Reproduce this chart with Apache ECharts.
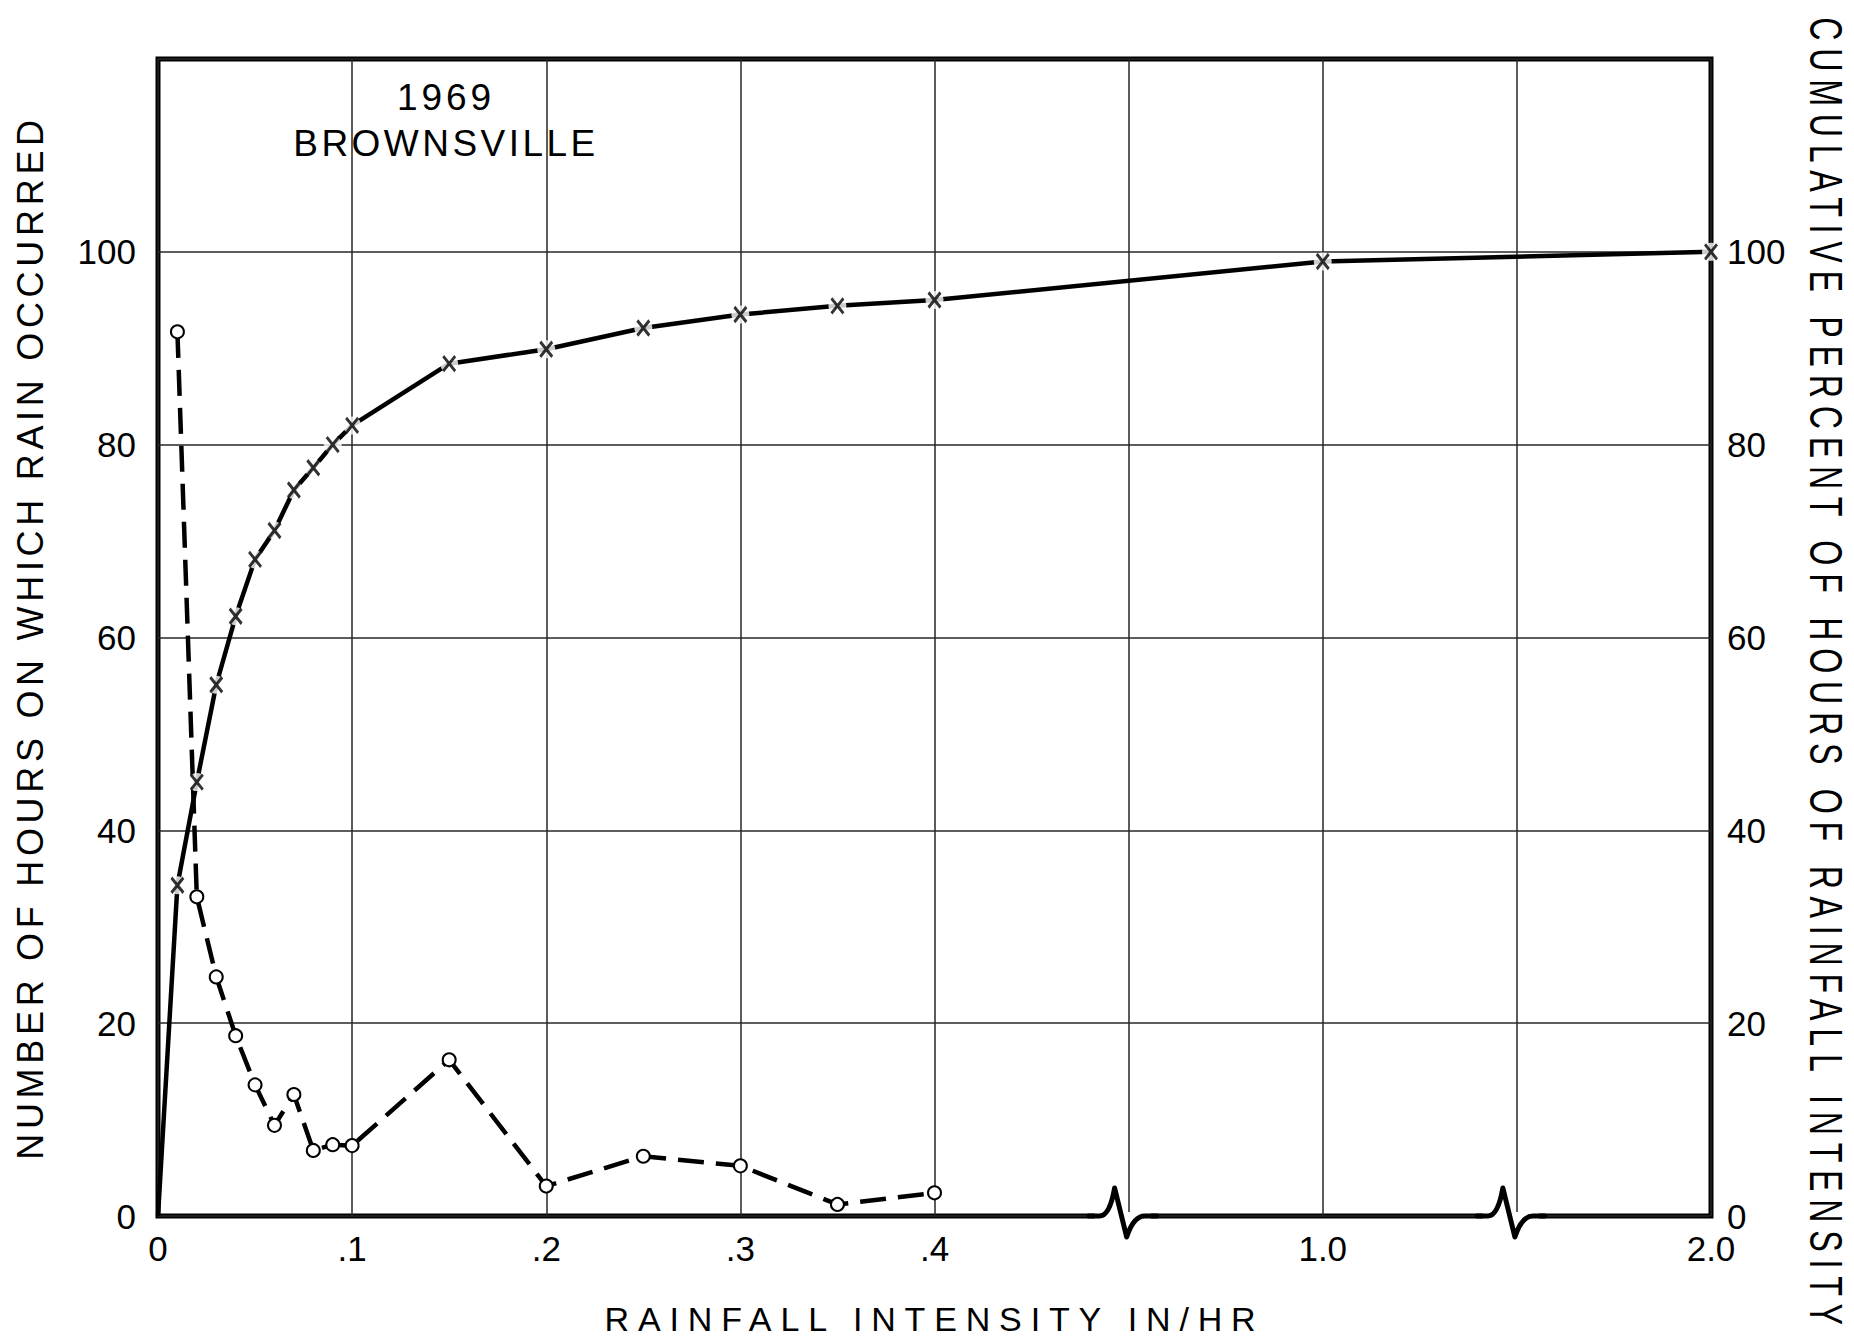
<!DOCTYPE html>
<html>
<head>
<meta charset="utf-8">
<script src="https://cdn.jsdelivr.net/npm/echarts@6/dist/echarts.min.js"></script>
<style>
  html, body { margin: 0; padding: 0; background: #fff; }
  #chart { width: 1854px; height: 1343px; }
</style>
</head>
<body>
<div id="chart"></div>
<script>
// Hourly rainfall intensity distribution, Brownsville 1969.

// Broken intensity axis: evenly spaced ticks, unlabeled ticks mark the breaks.
const intensityTicks = [0, 0.1, 0.2, 0.3, 0.4, null, 1.0, null, 2.0];
const tickLabels = ['0', '.1', '.2', '.3', '.4', '', '1.0', '', '2.0'];
const yTickLabels = [0, 20, 40, 60, 80, 100];

// Number of hours on which rain of each intensity occurred (open circles)
const hourIntensity = [0.01, 0.02, 0.03, 0.04, 0.05, 0.06, 0.07, 0.08, 0.09, 0.10,
                       0.15, 0.20, 0.25, 0.30, 0.35, 0.40];
const hoursCount = [91.7, 33.1, 24.8, 18.7, 13.6, 9.4, 12.6, 6.8, 7.4, 7.3,
                    16.2, 3.1, 6.2, 5.2, 1.2, 2.4];

// Cumulative percent of hours of rainfall intensity (crosses)
const cumIntensity = [0, 0.01, 0.02, 0.03, 0.04, 0.05, 0.06, 0.07, 0.08, 0.09, 0.10,
                      0.15, 0.20, 0.25, 0.30, 0.35, 0.40, 1.0, 2.0];
const cumPercent = [0, 34.3, 45.0, 55.1, 62.2, 68.1, 71.1, 75.3, 77.6, 80.0, 82.0,
                    88.4, 89.9, 92.1, 93.5, 94.4, 95.0, 99.0, 100.0];

const TITLE_YEAR = '1969';
const TITLE_PLACE = 'BROWNSVILLE';
const X_NAME = 'RAINFALL INTENSITY IN/HR';
const Y_LEFT_NAME = 'NUMBER OF HOURS ON WHICH RAIN OCCURRED';
const Y_RIGHT_NAME = 'CUMULATIVE PERCENT OF HOURS OF RAINFALL INTENSITY';

const FONT = 'Liberation Sans';
const INK = '#000';
const GRID_INK = '#262626';

// Piecewise-linear map from intensity (in/hr) to position on the broken axis.
const anchors = intensityTicks
  .map((v, i) => (v == null ? null : [v, i]))
  .filter(Boolean);
function axisPos(x) {
  for (let k = 0; k < anchors.length - 1; k++) {
    const [a0, i0] = anchors[k];
    const [a1, i1] = anchors[k + 1];
    if (x <= a1 + 1e-9) return i0 + (x - a0) / (a1 - a0) * (i1 - i0);
  }
  return anchors[anchors.length - 1][1];
}

const hoursData = hourIntensity.map((x, i) => [axisPos(x), hoursCount[i]]);
const cumData = cumIntensity.map((x, i) => [axisPos(x), cumPercent[i]]);
const cumMarks = cumData.filter((d, i) => cumIntensity[i] > 0);
const breakData = tickLabels.map((l, i) => (l === '' ? [i] : null)).filter(Boolean);

const chart = echarts.init(document.getElementById('chart'), null, { renderer: 'svg' });

const yLabel = v => (yTickLabels.includes(v) ? String(v) : '');

chart.setOption({
  animation: false,
  backgroundColor: '#fff',
  grid: {
    left: 158, right: 143, top: 59, bottom: 127,
    show: true, borderColor: INK, borderWidth: 5, backgroundColor: 'transparent'
  },
  xAxis: {
    type: 'value', min: 0, max: tickLabels.length - 1, interval: 1,
    axisLine: { show: false }, axisTick: { show: false },
    axisLabel: {
      margin: 15, fontSize: 35, fontFamily: FONT, color: INK,
      formatter: v => tickLabels[Math.round(v)] || ''
    },
    splitLine: { show: true, lineStyle: { color: GRID_INK, width: 1.5 } },
    name: X_NAME, nameLocation: 'middle', nameGap: 86,
    nameTextStyle: { fontSize: 34, fontFamily: FONT, color: INK }
  },
  yAxis: [
    {
      type: 'value', min: 0, max: 120, interval: 20, position: 'left',
      axisLine: { show: false }, axisTick: { show: false },
      axisLabel: { margin: 22, fontSize: 35, fontFamily: FONT, color: INK, formatter: yLabel },
      splitLine: { show: true, lineStyle: { color: GRID_INK, width: 1.5 } },
      name: Y_LEFT_NAME, nameLocation: 'middle', nameRotate: 90, nameGap: 110,
      nameTextStyle: { fontSize: 36, fontFamily: FONT, color: INK }
    },
    {
      type: 'value', min: 0, max: 120, interval: 20, position: 'right',
      axisLine: { show: false }, axisTick: { show: false },
      axisLabel: { margin: 16, fontSize: 35, fontFamily: FONT, color: INK, formatter: yLabel },
      splitLine: { show: false }
    }
  ],
  graphic: [
    { type: 'text', x: 446, y: 97,
      style: { text: TITLE_YEAR, fontSize: 37, fontFamily: FONT, fill: INK, align: 'center', verticalAlign: 'middle' } },
    { type: 'text', x: 446, y: 143,
      style: { text: TITLE_PLACE, fontSize: 37, fontFamily: FONT, fill: INK, align: 'center', verticalAlign: 'middle' } },
    { type: 'text', x: 1826, y: 675, rotation: -Math.PI / 2, scaleX: 0.7,
      style: { text: Y_RIGHT_NAME, fontSize: 46, fontFamily: FONT, fill: INK, align: 'center', verticalAlign: 'middle' } }
  ],
  series: [
    {
      name: 'hours', type: 'line', xAxisIndex: 0, yAxisIndex: 0, z: 3,
      data: hoursData,
      symbol: 'emptyCircle', symbolSize: 13, showAllSymbol: true,
      itemStyle: { color: INK, borderColor: INK, borderWidth: 3 },
      lineStyle: { color: INK, width: 4.5, type: [26, 12], cap: 'butt' }
    },
    {
      name: 'cumulative', type: 'line', xAxisIndex: 0, yAxisIndex: 1, z: 2,
      data: cumData, symbol: 'none',
      lineStyle: { color: INK, width: 4.5, join: 'round' }
    },
    {
      name: 'cumulative gap', type: 'scatter', xAxisIndex: 0, yAxisIndex: 1, z: 4,
      data: cumMarks, symbol: 'circle', symbolSize: 18,
      itemStyle: { color: '#fff' }, silent: true
    },
    {
      name: 'cumulative marks', type: 'scatter', xAxisIndex: 0, yAxisIndex: 1, z: 5,
      data: cumMarks, symbol: 'path://M0,0L10,12M10,0L0,12', symbolSize: [12, 15],
      itemStyle: { color: INK, borderColor: INK, borderWidth: 3 }
    },
    {
      name: 'axis breaks', type: 'custom', xAxisIndex: 0, yAxisIndex: 0, z: 6, silent: true,
      data: breakData,
      renderItem(params, api) {
        const [cx, cy] = api.coord([api.value(0), 0]);
        const d = `M${cx - 40},${cy} L${cx - 29},${cy} Q${cx - 19},${cy} ${cx - 14},${cy - 28} ` +
                  `L${cx - 2},${cy + 21} Q${cx + 5},${cy} ${cx + 16},${cy} L${cx + 28},${cy}`;
        return {
          type: 'group',
          children: [
            { type: 'rect', shape: { x: cx - 34, y: cy - 4, width: 56, height: 8 }, style: { fill: '#fff' } },
            { type: 'path', shape: { pathData: d },
              style: { fill: 'none', stroke: INK, lineWidth: 5, lineJoin: 'round', lineCap: 'round' } }
          ]
        };
      }
    }
  ]
});

// Hand-lettered titles are widely spaced: spread each one to its full run length.
const spacedTexts = [
  { text: Y_LEFT_NAME, size: 36, span: 1040, scale: 1 },
  { text: X_NAME, size: 34, span: 653, scale: 1 },
  { text: Y_RIGHT_NAME, size: 46, span: 1310, scale: 0.7 },
  { text: TITLE_PLACE, size: 37, span: 302, scale: 1 },
  { text: TITLE_YEAR, size: 37, span: 94, scale: 1 }
];
const measureCtx = document.createElement('canvas').getContext('2d');
const spacingByText = {};
spacedTexts.forEach(t => {
  measureCtx.font = `${t.size}px "${FONT}"`;
  const natural = measureCtx.measureText(t.text).width;
  spacingByText[t.text] = Math.max(0, (t.span / t.scale - natural) / (t.text.length - 1));
});
function applySpacing() {
  document.querySelectorAll('#chart svg text').forEach(el => {
    const s = spacingByText[el.textContent];
    if (s != null) el.style.letterSpacing = s.toFixed(2) + 'px';
  });
}
applySpacing();
chart.on('finished', applySpacing);
</script>
</body>
</html>
